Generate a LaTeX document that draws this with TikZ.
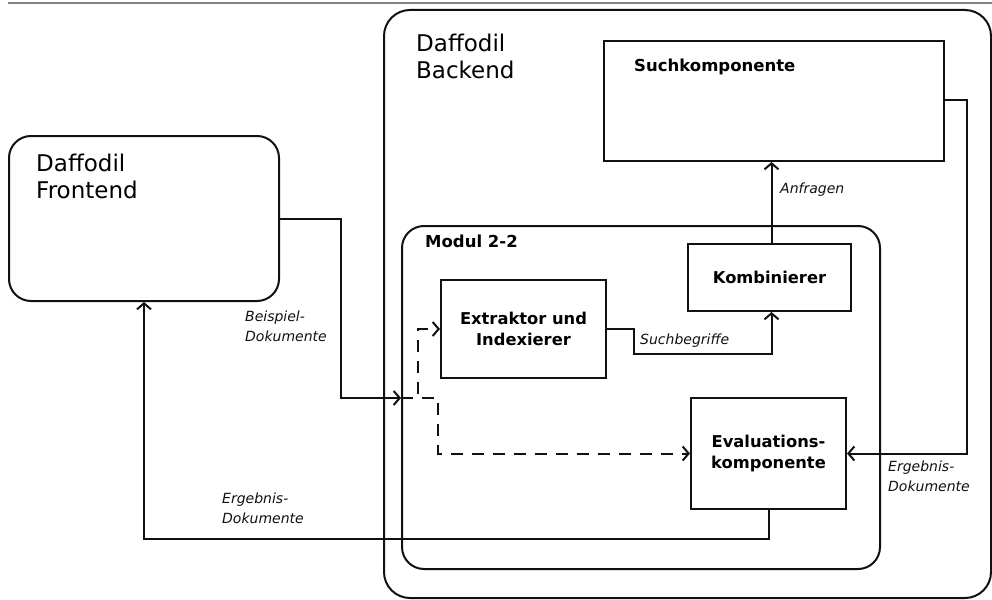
\documentclass[tikz,border=0pt]{standalone}
\usepackage{fontspec}
\setmainfont{DejaVu Sans}
\usetikzlibrary{arrows.meta}
\definecolor{ink}{HTML}{111111}
\tikzset{
  box/.style={draw=ink, line width=2pt, anchor=north west, inner sep=0pt, font=\fontsize{16.3}{20.5}\selectfont\bfseries, align=center},
  rbox/.style={box, rounded corners=#1},
  title/.style={anchor=north west, inner sep=0pt, align=left, font=\fontsize{23}{26.5}\selectfont},
  btitle/.style={anchor=north west, inner sep=0pt, align=left, font=\fontsize{16.5}{19}\selectfont\bfseries},
  lbl/.style={anchor=north west, inner sep=0pt, align=left, text=ink, font=\fontsize{14}{19.5}\selectfont\itshape},
  conn/.style={draw=ink, line width=2pt},
  arr/.style={conn, -{Straight Barb[length=6pt,width=14pt,line width=2pt]}},
  dsh/.style={dash pattern=on 12pt off 9pt}
}
\begin{document}
\begin{tikzpicture}[x=1pt,y=-1pt]
\useasboundingbox (0,0) rectangle (992,599);
% top rule
\draw[gray, line width=1.6pt] (8,3) -- (992,3);
% containers
\node[rbox=26pt, minimum width=607pt, minimum height=588pt] (backend) at (383,9) {};
\node[rbox=22pt, minimum width=270pt, minimum height=165pt] (front) at (8,135) {};
\node[rbox=22pt, minimum width=478pt, minimum height=343pt] (modul) at (401,225) {};
% boxes
\node[box, minimum width=340pt, minimum height=120pt] (such) at (603,40) {};
\node[box, minimum width=165pt, minimum height=98pt] (extr) at (440,279) {Extraktor und\\Indexierer};
\node[box, minimum width=163pt, minimum height=67pt] (komb) at (687,243) {Kombinierer};
\node[box, minimum width=155pt, minimum height=111pt] (eval) at (690,397) {Evaluations-\\komponente};
% titles
\node[title] (fronttitle) at (36,154) {Daffodil\\Frontend};
\node[title] (backtitle) at (416,34) {Daffodil\\Backend};
\node[btitle] (suchtitle) at (634,59) {Suchkomponente};
\node[btitle] (modtitle) at (425,235) {Modul 2-2};
% split point on the module border
\coordinate (splitin) at (401,398);
% connectors
\draw[arr] (front.east) -- ++(61,0) |- (splitin);
\draw[arr, dsh] (splitin) -- ++(17,0) |- (extr.west);
\draw[arr, dsh] (splitin) -- ++(37,0) |- (eval.west);
\draw[arr] (extr.east) -- ++(27,0) -- ++(0,25) -| ([xshift=2pt]komb.south);
\draw[arr] ([xshift=2pt]komb.north) -- ([xshift=2pt]komb.north |- such.south);
\draw[arr] (such.east |- 0,100) -- ++(22,0) |- (eval.east);
\draw[arr] (eval.south) -- ++(0,29) -| (front.south);
% labels
\node[lbl] (lbeisp) at (245,311) {Beispiel-\\Dokumente};
\node[lbl] (lsuch) at (640,334) {Suchbegriffe};
\node[lbl] (lanfr) at (780,183) {Anfragen};
\node[lbl] (lerg1) at (888,461) {Ergebnis-\\Dokumente};
\node[lbl] (lerg2) at (222,493) {Ergebnis-\\Dokumente};
\end{tikzpicture}
\end{document}
